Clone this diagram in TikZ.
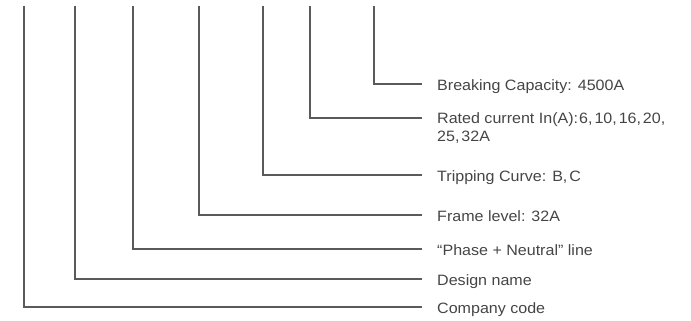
\documentclass[tikz,border=0pt]{standalone}
\usepackage{fontspec}
\setmainfont{Liberation Sans}
\definecolor{linegray}{HTML}{5A5A5A}
\definecolor{textgray}{HTML}{454545}
\newcommand{\cm}{,\kern1.8pt}
\begin{document}
\begin{tikzpicture}[x=1pt,y=-1pt,
  leader/.style={draw=linegray,line width=1.1pt},
  lbl/.style={anchor=base west,inner sep=0pt,text=textgray,font=\fontsize{15}{18.4}\selectfont,align=left,xscale=1.07,transform shape}]
\useasboundingbox (0,0) rectangle (691,321);
% tops
\coordinate (t1) at (374,6);
\coordinate (t2) at (310,6);
\coordinate (t3) at (263,6);
\coordinate (t4) at (199,6);
\coordinate (t5) at (133,6);
\coordinate (t6) at (75,6);
\coordinate (t7) at (24,6);
% ends
\coordinate (e1) at (422,84);
\coordinate (e2) at (422,118);
\coordinate (e3) at (422,175);
\coordinate (e4) at (422,215);
\coordinate (e5) at (422,249);
\coordinate (e6) at (422,279);
\coordinate (e7) at (422,307);
% labels
\node[lbl] (l1) at (437,90.5) {Breaking Capacity: 4500A};
\node[lbl] (l2) at (437,141.8) {Rated current In(A):\kern1pt6\cm10\cm16\cm20\cm\\25\cm32A};
\node[lbl] (l3) at (437,181) {Tripping Curve: B\cm C};
\node[lbl] (l4) at (437,221) {Frame level: 32A};
\node[lbl] (l5) at (437,255) {“Phase + Neutral” line};
\node[lbl] (l6) at (437,285) {Design name};
\node[lbl] (l7) at (437,313) {Company code};
% leaders
\foreach \i in {1,...,7} {\draw[leader] (t\i) |- (e\i);}
\end{tikzpicture}
\end{document}
